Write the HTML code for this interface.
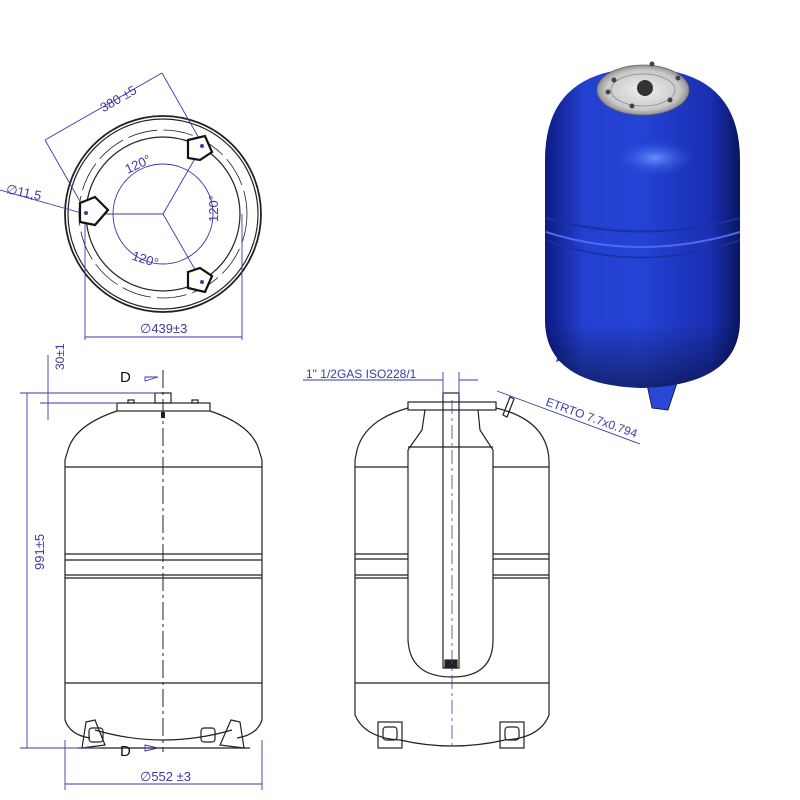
<!DOCTYPE html>
<html><head><meta charset="utf-8"><style>
html,body{margin:0;padding:0;background:#fff;}
svg{display:block;}
text{font-family:"Liberation Sans",sans-serif;fill:#3a3aa8;}
</style></head><body>
<svg width="800" height="800" viewBox="0 0 800 800" xmlns="http://www.w3.org/2000/svg">
<defs>
<linearGradient id="bl" x1="0" x2="1" y1="0" y2="0">
<stop offset="0" stop-color="#0e1a80"/><stop offset="0.2" stop-color="#2340d0"/><stop offset="0.5" stop-color="#2442d4"/><stop offset="0.85" stop-color="#1a2eb0"/><stop offset="1" stop-color="#0a1660"/></linearGradient>
<linearGradient id="sh" x1="0" x2="0" y1="0" y2="1">
<stop offset="0" stop-color="#000" stop-opacity="0"/><stop offset="0.8" stop-color="#000" stop-opacity="0"/><stop offset="1" stop-color="#000" stop-opacity="0.45"/></linearGradient>
<radialGradient id="hl" cx="0.5" cy="0.5" r="0.5"><stop offset="0" stop-color="#6a9aff" stop-opacity="0.9"/><stop offset="1" stop-color="#3050e0" stop-opacity="0"/></radialGradient>
<radialGradient id="cap" cx="0.5" cy="0.5" r="0.5"><stop offset="0" stop-color="#f0f0f0"/><stop offset="0.8" stop-color="#c8c8c8"/><stop offset="1" stop-color="#909090"/></radialGradient>
</defs>

<!-- TOP VIEW -->
<g fill="none" stroke="#222" stroke-width="1.2">
<circle cx="163" cy="214" r="98" stroke-width="1.8"/>
<circle cx="163" cy="214" r="95"/>
<circle cx="163" cy="214" r="77"/>
<circle cx="163" cy="214" r="84" stroke-width="0.8" stroke-dasharray="30 6"/>
</g>
<g fill="none" stroke="#3a3aa8" stroke-width="0.9">
<circle cx="163" cy="214" r="50"/>
<line x1="163" y1="214" x2="100" y2="214"/>
<line x1="163" y1="214" x2="197" y2="155"/>
<line x1="163" y1="214" x2="197" y2="273"/>
<line x1="45" y1="140" x2="162" y2="73"/>
<line x1="45" y1="140" x2="85" y2="210"/>
<line x1="162" y1="73" x2="200" y2="140"/>
<line x1="0" y1="190" x2="85" y2="214"/>
<line x1="85" y1="222" x2="85" y2="340"/>
<line x1="242" y1="214" x2="242" y2="340"/>
<line x1="85" y1="337" x2="242" y2="337"/>
</g>
<g fill="#fff" stroke="#111" stroke-width="2.2">
<path d="M80 203 L95 197 L108 210 L95 225 L80 222 Z"/>
<path d="M188 140 L205 136 L212 152 L200 160 L188 158 Z"/>
<path d="M188 272 L200 268 L212 276 L205 292 L188 288 Z"/>
</g>
<g fill="#3a3aa8"><circle cx="86" cy="213" r="2"/><circle cx="202" cy="146" r="2"/><circle cx="202" cy="282" r="2"/></g>
<text x="100" y="108" font-size="13" transform="rotate(-30 110 104)">380 ±5</text>
<text x="125" y="170" font-size="13" transform="rotate(-25 135 166)">120°</text>
<text x="132" y="262" font-size="13" transform="rotate(18 140 258)">120°</text>
<text x="210" y="230" font-size="13" transform="rotate(-90 210 222)">120°</text>
<text x="6" y="196" font-size="13" transform="rotate(12 20 192)">∅11,5</text>
<text x="140" y="333" font-size="13">∅439±3</text>

<!-- FRONT VIEW -->
<g fill="none" stroke="#222" stroke-width="1.2">
<rect x="117" y="403" width="93" height="8"/>
<path d="M117 411 Q75 425 68 450 L65 460 L65 720 Q70 735 90 738"/>
<path d="M210 411 Q252 425 259 450 L262 460 L262 720 Q257 735 237 738"/>
<path d="M95 730 Q163 750 232 730"/>
<line x1="65" y1="467" x2="262" y2="467"/>
<line x1="65" y1="554" x2="262" y2="554"/>
<line x1="65" y1="560" x2="262" y2="560"/>
<line x1="65" y1="575" x2="262" y2="575"/>
<line x1="65" y1="578" x2="262" y2="578"/>
<line x1="65" y1="683" x2="262" y2="683"/>
<rect x="155" y="393" width="16" height="10"/>
<rect x="128" y="400" width="6" height="3"/><rect x="192" y="400" width="6" height="3"/>
<path d="M86 722 L95 720 L105 745 L82 748 Z"/>
<path d="M240 722 L231 720 L220 745 L244 748 Z"/>
<rect x="89" y="728" width="14" height="14" rx="3"/>
<rect x="201" y="728" width="14" height="14" rx="3"/>
<line x1="78" y1="748" x2="250" y2="748"/>
</g>
<line x1="163" y1="370" x2="163" y2="752" stroke="#222" stroke-width="1" stroke-dasharray="18 4 3 4"/>
<rect x="161" y="412" width="4" height="6" fill="#222"/>
<g fill="none" stroke="#3a3aa8" stroke-width="0.9">
<line x1="20" y1="393" x2="160" y2="393"/>
<line x1="40" y1="403" x2="118" y2="403"/>
<line x1="27" y1="393" x2="27" y2="748"/>
<line x1="48" y1="355" x2="48" y2="420"/>
<line x1="20" y1="748" x2="100" y2="748"/>
<line x1="65" y1="740" x2="65" y2="790"/>
<line x1="262" y1="740" x2="262" y2="790"/>
<line x1="65" y1="784" x2="262" y2="784"/>
<path d="M145 377 L158 377 L145 381 Z M145 745 L158 748 L145 751 Z"/>
</g>
<text x="120" y="382" font-size="15" style="fill:#111">D</text>
<text x="120" y="756" font-size="15" style="fill:#111">D</text>
<text x="24" y="590" font-size="13" transform="rotate(-90 24 570)">991±5</text>
<text x="46" y="388" font-size="12" transform="rotate(-90 46 370)">30±1</text>
<text x="140" y="781" font-size="13">∅552 ±3</text>

<!-- SIDE VIEW -->
<g fill="none" stroke="#222" stroke-width="1.2">
<path d="M408 408 Q365 420 357 450 L355 460 L355 715 Q365 738 400 740 Q452 752 505 740 Q540 738 549 715 L549 460 Q547 420 496 408"/>
<line x1="355" y1="467" x2="408" y2="467"/><line x1="493" y1="467" x2="549" y2="467"/>
<line x1="355" y1="554" x2="408" y2="554"/><line x1="493" y1="554" x2="549" y2="554"/>
<line x1="355" y1="559" x2="408" y2="559"/><line x1="493" y1="559" x2="549" y2="559"/>
<line x1="355" y1="575" x2="408" y2="575"/><line x1="493" y1="575" x2="549" y2="575"/>
<line x1="355" y1="578" x2="408" y2="578"/><line x1="493" y1="578" x2="549" y2="578"/>
<line x1="355" y1="683" x2="549" y2="683"/>
<path d="M425 410 L422 430 L410 447 L408 450 L408 640 Q410 677 452 677 Q493 677 493 640 L493 450 L480 430 L478 410"/>
<line x1="408" y1="447" x2="493" y2="447"/>
<rect x="443" y="393" width="16" height="275"/>
<rect x="445" y="660" width="12" height="8" fill="#222"/>
<rect x="408" y="402" width="88" height="8"/>
<rect x="378" y="722" width="24" height="26"/><rect x="383" y="727" width="14" height="13" rx="3"/>
<rect x="500" y="722" width="24" height="26"/><rect x="505" y="727" width="14" height="13" rx="3"/>
<path d="M503 415 L510 397 L514 399 L507 417 Z"/>
</g>
<line x1="452" y1="400" x2="452" y2="750" stroke="#3a3aa8" stroke-width="0.8" stroke-dasharray="14 4 3 4"/>
<g fill="none" stroke="#3a3aa8" stroke-width="0.9">
<line x1="303" y1="380" x2="443" y2="380"/>
<line x1="459" y1="380" x2="478" y2="380"/>
<line x1="443" y1="372" x2="443" y2="395"/>
<line x1="459" y1="372" x2="459" y2="395"/>
<line x1="497" y1="391" x2="640" y2="444"/>
</g>
<text x="306" y="378" font-size="12">1" 1/2GAS ISO228/1</text>
<text x="545" y="405" font-size="12" transform="rotate(20 545 405)">ETRTO 7.7x0.794</text>

<!-- BLUE TANK -->
<path d="M646 380 L652 408 L668 410 L678 380 Z" fill="#2a48d8" stroke="#112" stroke-width="0.8"/>
<path d="M562 340 L556 362 L568 358 Z" fill="#2a48d8"/>
<path d="M545 160 Q545 70 642 68 Q740 70 740 160 L740 320 Q740 385 642 388 Q545 385 545 320 Z" fill="url(#bl)"/>
<path d="M545 160 Q545 70 642 68 Q740 70 740 160 L740 320 Q740 385 642 388 Q545 385 545 320 Z" fill="url(#sh)"/>
<ellipse cx="655" cy="158" rx="40" ry="18" fill="url(#hl)"/>
<path d="M546 218 Q640 245 740 218" fill="none" stroke="#1830a0" stroke-width="2"/>
<path d="M546 232 Q640 262 740 232" fill="none" stroke="#4a6af0" stroke-width="2"/>
<path d="M546 240 Q640 275 740 240" fill="none" stroke="#1830a0" stroke-width="1.5"/>
<ellipse cx="643" cy="90" rx="46" ry="25" fill="url(#cap)" stroke="#666" stroke-width="0.8"/>
<ellipse cx="643" cy="90" rx="32" ry="16" fill="none" stroke="#888" stroke-width="0.8"/>
<ellipse cx="645" cy="88" rx="8" ry="8" fill="#333"/>
<g fill="#444"><circle cx="614" cy="80" r="2.5"/><circle cx="652" cy="64" r="2.5"/><circle cx="678" cy="78" r="2.5"/><circle cx="670" cy="100" r="2.5"/><circle cx="632" cy="106" r="2.5"/><circle cx="608" cy="92" r="2.5"/></g>
</svg>
</body></html>
